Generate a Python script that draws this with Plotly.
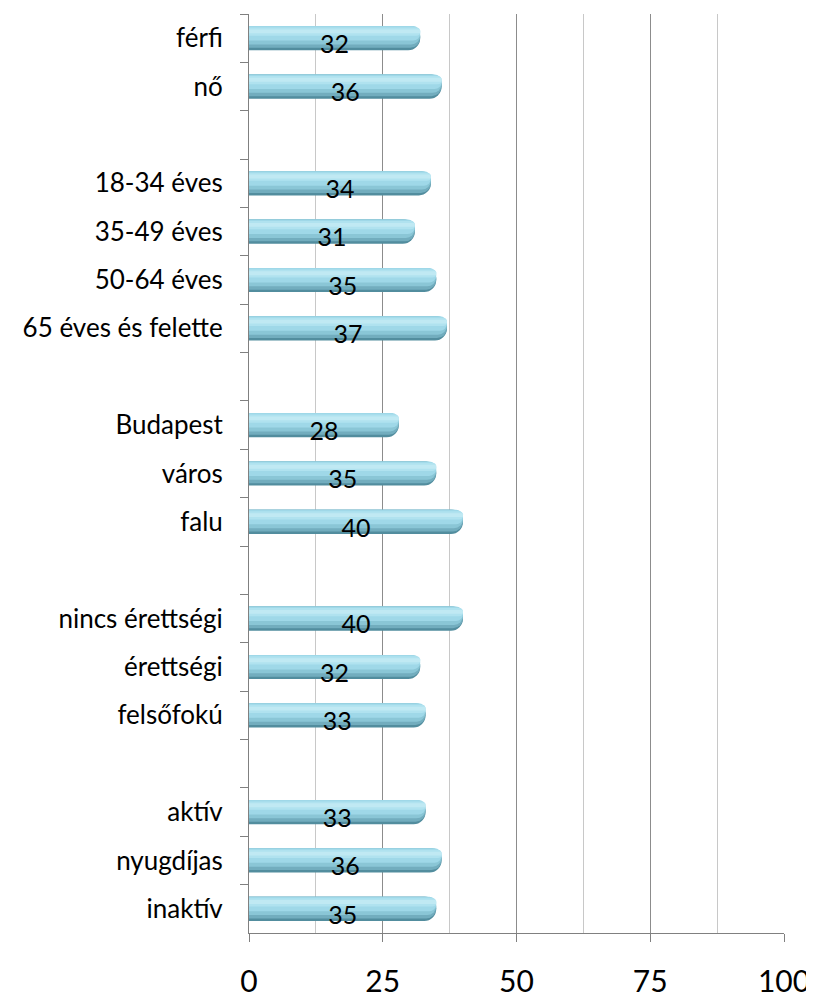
import plotly.graph_objects as go

# kategóriák (üres helyek a csoportok között)
categories = ["férfi", "nő", " ",
              "18-34 éves", "35-49 éves", "50-64 éves", "65 éves és felette", "  ",
              "Budapest", "város", "falu", "   ",
              "nincs érettségi", "érettségi", "felsőfokú", "    ",
              "aktív", "nyugdíjas", "inaktív"]
values = [32, 36, None,
          34, 31, 35, 37, None,
          28, 35, 40, None,
          40, 32, 33, None,
          33, 36, 35]
labels = ["" if v is None else str(v) for v in values]
x_ticks = [0, 25, 50, 75, 100]

FONT = "Lato, 'Open Sans', sans-serif"

fig = go.Figure()

# henger-hatás: egymásra rakott sávok (alul sötétebb, felül világos)
layers = [
    # (offset, width, color, cornerradius)
    (-0.25, 0.50, "#528d9e", 12),
    (-0.25, 0.45, "#72adbe", 11),
    (-0.25, 0.38, "#8ac6d6", 9),
    (-0.25, 0.30, "#9fd8e8", 7),
    (-0.22, 0.17, "#b0e2ef", 4),
    (-0.18, 0.08, "#c0e9f3", 2),
]
for off, w, col, cr in layers:
    fig.add_trace(go.Bar(
        y=categories, x=values, orientation="h", width=w, offset=off,
        marker=dict(color=col, cornerradius=cr, line=dict(width=0)),
        hoverinfo="skip", showlegend=False,
    ))

# adatfeliratok
fig.add_trace(go.Bar(
    y=categories, x=values, orientation="h", width=0.5, offset=-0.15,
    marker=dict(color="rgba(0,0,0,0)", line=dict(width=0)),
    text=labels, textposition="inside", insidetextanchor="middle", textangle=0,
    textfont=dict(family=FONT, size=25, color="black"),
    constraintext="none", cliponaxis=False,
    hoverinfo="skip", showlegend=False,
))

# a böngésző 8 px-es body-margóját levonjuk
fig.update_layout(
    barmode="overlay",
    width=806, height=992,
    margin=dict(l=241, r=30, t=6, b=67),
    plot_bgcolor="white", paper_bgcolor="white",
    font=dict(family=FONT, color="black"),
)
fig.update_xaxes(
    range=[0, 100], tickvals=x_ticks, ticks="outside", ticklen=8, tickcolor="#808080",
    showline=True, linecolor="#808080", linewidth=1,
    showgrid=True, gridcolor="#8c8c8c", gridwidth=1,
    minor=dict(dtick=12.5, tick0=0, showgrid=True, gridcolor="#c8c8c8", gridwidth=1, ticks=""),
    tickfont=dict(family=FONT, size=30), ticklabelstandoff=14,
    zeroline=False, fixedrange=True, automargin=False,
)
fig.update_yaxes(
    type="category", autorange="reversed", categoryorder="array", categoryarray=categories,
    tickson="boundaries", ticks="outside", ticklen=8, tickcolor="#808080",
    showline=True, linecolor="#808080", linewidth=1, showgrid=False,
    tickfont=dict(family=FONT, size=26), ticklabelstandoff=20, automargin=False,
)

fig.write_html("out.html")
